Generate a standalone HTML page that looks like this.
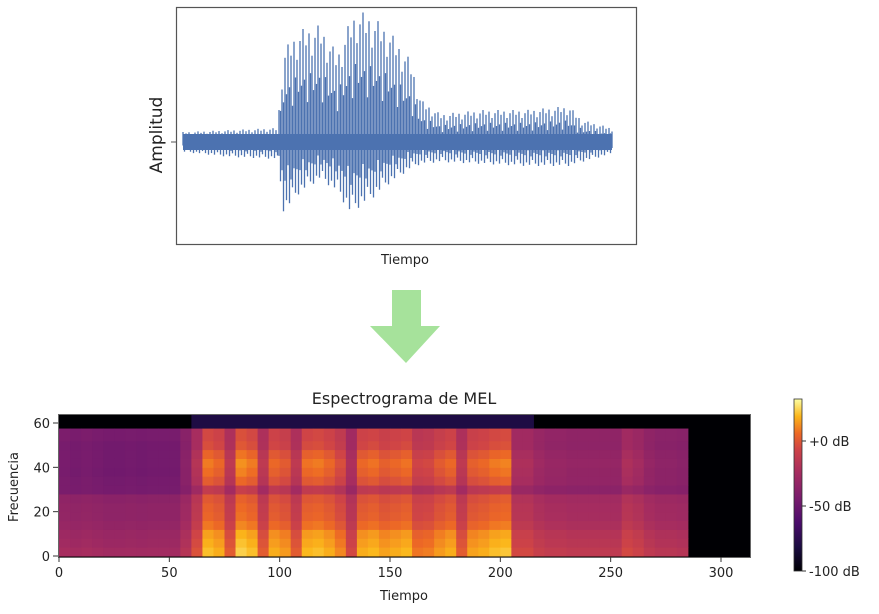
<!DOCTYPE html>
<html><head><meta charset="utf-8">
<style>
body{margin:0;background:#fff;width:879px;height:609px;overflow:hidden;font-family:"Liberation Sans","DejaVu Sans",sans-serif}
svg text{font-family:"DejaVu Sans","Liberation Sans",sans-serif;fill:#222}
</style></head>
<body>
<svg id="fig" width="879" height="609" viewBox="0 0 879 609" xmlns="http://www.w3.org/2000/svg">
  <g id="wave">
    <rect x="176.5" y="7.5" width="460" height="237" fill="none" stroke="#555" stroke-width="1.2"/>
    <line x1="171" y1="142" x2="176" y2="142" stroke="#555"/>
    <text transform="translate(162,135) rotate(-90)" text-anchor="middle" font-size="17">Amplitud</text>
    <text x="405" y="264" text-anchor="middle" font-size="13">Tiempo</text>
    <g id="waveLines"></g>
  </g>
  <g>
    <polygon points="392,290 421,290 421,326 440,326 406,363 370,326 392,326" fill="#a6e29b"/>
  </g>
  <g id="spec">
    <text x="404" y="404" text-anchor="middle" font-size="16">Espectrograma de MEL</text>
    <g id="cells"></g>
    <rect x="58.5" y="414.5" width="692" height="143" fill="none" stroke="#666" stroke-width="1"/>
    <g id="axes"></g>
    <text x="404" y="600" text-anchor="middle" font-size="13">Tiempo</text>
    <text transform="translate(18,487) rotate(-90)" text-anchor="middle" font-size="13">Frecuencia</text>
    <defs><linearGradient id="cbg" x1="0" y1="1" x2="0" y2="0">
      <stop offset="0" stop-color="#000004"/><stop offset="0.14" stop-color="#1b0c41"/><stop offset="0.28" stop-color="#4a0c6b"/><stop offset="0.42" stop-color="#781c6d"/><stop offset="0.57" stop-color="#a52c60"/><stop offset="0.71" stop-color="#cf4446"/><stop offset="0.8" stop-color="#ed6925"/><stop offset="0.9" stop-color="#fbb61a"/><stop offset="1" stop-color="#fcffa4"/>
    </linearGradient></defs>
    <rect x="794" y="399" width="8" height="172" fill="url(#cbg)" stroke="#333" stroke-width="0.8"/>
    <g id="cbticks"></g>
  </g>
</svg>
<script>
// ---- waveform data (time 0..100, amplitude in px above/below center) ----
const waveT =     [0, 11, 22, 23.5, 27, 32, 36, 39, 40.5, 44, 48, 53, 55.5, 60, 70, 80, 90, 93, 100];
const waveUpper = [10, 12, 14, 92, 112, 117, 88, 122, 132, 126, 112, 82, 42, 28, 32, 32, 36, 22, 14];
const waveLower = [10, 15, 17, 72, 52, 37, 50, 72, 67, 57, 42, 27, 22, 20, 22, 24, 24, 20, 12];
const wavePattern = [1, 0.55, 0.85, 0.35, 0.95, 0.6, 0.75, 0.45, 0.9, 0.5];

// ---- spectrogram data ----
const specTimeBins = [];   // start times of 5-unit bins
for (let t = 0; t < 285; t += 5) specTimeBins.push(t);
const specLoudness = [0.2,0.18,0.2,0.18,0.16,0.16,0.17,0.16,0.17,0.17,0.17,0.3,0.55,0.9,0.85,0.6,0.95,0.9,0.6,0.85,0.8,0.6,0.88,0.9,0.85,0.75,0.5,0.85,0.88,0.82,0.85,0.88,0.7,0.72,0.8,0.85,0.6,0.82,0.85,0.9,0.92,0.5,0.5,0.42,0.38,0.38,0.36,0.36,0.36,0.36,0.36,0.5,0.45,0.36,0.32,0.32,0.3];
const freqBands = [0,4,8,12,16,20,24,28,32,36,40,44,48,52];
const freqBandTops = [4,8,12,16,20,24,28,32,36,40,44,48,52,57.5];
const freqQuietLevel = [0.48,0.46,0.45,0.44,0.43,0.43,0.42,0.36,0.33,0.31,0.31,0.32,0.33,0.35];
const freqLoudLevel =  [0.96,0.94,0.92,0.86,0.83,0.82,0.8,0.7,0.82,0.86,0.88,0.84,0.78,0.76];
const topBandLevel = 0.15;
const cbTickValues = [0, -50, -100];
const cbTickLabels = ["+0 dB", "-50 dB", "-100 dB"];
const xTicks = [0,50,100,150,200,250,300];
const yTicks = [0,20,40,60];

const NS = "http://www.w3.org/2000/svg";
function mk(tag, attrs, parent){const e=document.createElementNS(NS,tag);for(const k in attrs)e.setAttribute(k,attrs[k]);parent.appendChild(e);return e;}

// waveform
const wx = t => 183 + (t/100)*(612-183);
const wc = 142;
function interp(arr, t){for(let i=0;i<waveT.length-1;i++){if(t<=waveT[i+1]){const f=(t-waveT[i])/(waveT[i+1]-waveT[i]);return arr[i]+f*(arr[i+1]-arr[i]);}}return arr[arr.length-1];}
const wg = document.getElementById('waveLines');
let k=0;
for (let px=183; px<=612; px+=1.5){
  const t=(px-183)/(612-183)*100;
  const f=wavePattern[k%wavePattern.length], f2=wavePattern[(k+3)%wavePattern.length]; k++;
  const ln=mk('line',{x1:px,x2:px,y1:wc-interp(waveUpper,t)*f,y2:wc+interp(waveLower,t)*f2,stroke:'#4c72b0','stroke-width':1.3},wg);
  
  
}
mk('rect',{x:183,y:wc-8,width:429,height:16,fill:'#4c72b0'},wg);

// inferno colormap
const stops=[[0,0,0,4],[0.14,27,12,65],[0.28,74,12,107],[0.42,120,28,109],[0.57,165,44,96],[0.71,207,68,70],[0.8,237,105,37],[0.9,251,182,26],[1,252,255,164]];
function inferno(v){v=Math.max(0,Math.min(1,v));for(let i=0;i<stops.length-1;i++){if(v<=stops[i+1][0]){const a=stops[i],b=stops[i+1],f=(v-a[0])/(b[0]-a[0]);return `rgb(${Math.round(a[1]+f*(b[1]-a[1]))},${Math.round(a[2]+f*(b[2]-a[2]))},${Math.round(a[3]+f*(b[3]-a[3]))})`;}}}
const sx = t => 59 + t*(721-59)/300;
const sy = f => 556 - f*(556-423)/60;
const cells=document.getElementById('cells');
const bg=mk('rect',{x:59,y:415,width:691,height:142,fill:'#000004'},cells);


specTimeBins.forEach((t,i)=>{
  const L=specLoudness[i];
  freqBands.forEach((f,j)=>{
    const v = freqQuietLevel[j]*(1-L) + freqLoudLevel[j]*L;
    const top = freqBandTops[j];
    const r=mk('rect',{x:sx(t),y:sy(top),width:sx(t+5)-sx(t)+0.5,height:sy(f)-sy(top)+0.5,fill:inferno(v)},cells);
    
    
  });
  if (L>0.45 && t<215){
    const r=mk('rect',{x:sx(t),y:sy(64),width:sx(t+5)-sx(t)+0.5,height:sy(57.5)-sy(64),fill:inferno(topBandLevel)},cells);
    
    
  }
});

// axes
const ax=document.getElementById('axes');
xTicks.forEach(v=>{
  mk('line',{x1:sx(v),x2:sx(v),y1:557,y2:562,stroke:'#333'},ax);
  const tx=mk('text',{x:sx(v),y:577,'text-anchor':'middle','font-size':13},ax);tx.textContent=v;
  
  
});
yTicks.forEach(v=>{
  mk('line',{x1:53,x2:58,y1:sy(v),y2:sy(v),stroke:'#333'},ax);
  const tx=mk('text',{x:50,y:sy(v)+5,'text-anchor':'end','font-size':13},ax);tx.textContent=v;
  
  
});
const cb=document.getElementById('cbticks');
const cy = d => 571 - (d+100)*(571-441)/100;
cbTickValues.forEach((d,i)=>{
  mk('line',{x1:802,x2:806,y1:cy(d),y2:cy(d),stroke:'#333'},cb);
  const tx=mk('text',{x:809,y:cy(d)+5,'font-size':13},cb);tx.textContent=cbTickLabels[i];
  
  
});
</script>
</body></html>
